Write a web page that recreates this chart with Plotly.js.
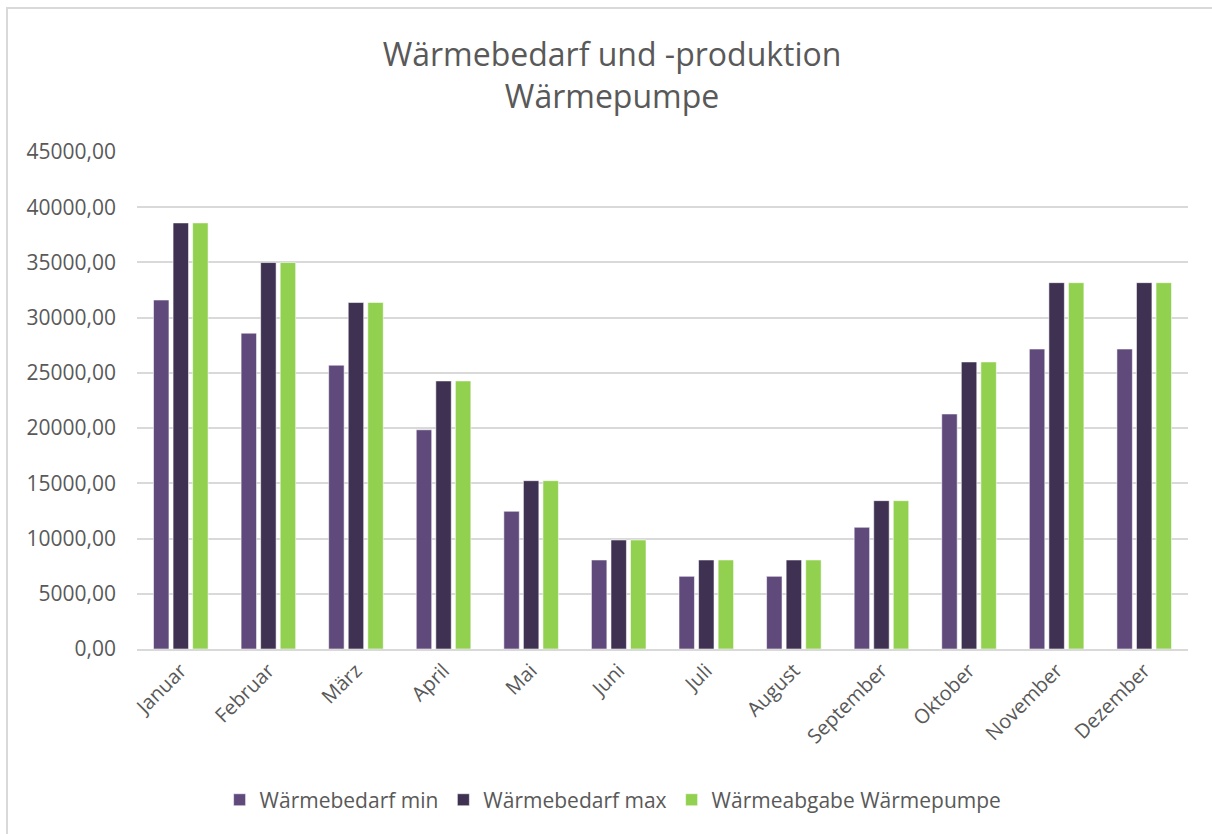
<!DOCTYPE html>
<html>
<head>
<meta charset="utf-8">
<script src="https://cdn.plot.ly/plotly-3.0.1.min.js"></script>
<style>
  html, body { margin: 0; padding: 0; background: #ffffff; overflow: hidden; }
  #frame { position: absolute; left: 6px; top: 7px; width: 1230px; height: 850px; border-left: 2px solid #d9d9d9; border-top: 2px solid #d9d9d9; }
  #chart { position: absolute; left: 0; top: 0; width: 1212px; height: 834px; }
</style>
</head>
<body>
<div id="frame"></div>
<div id="chart"></div>
<script>
const months = ["Januar", "Februar", "März", "April", "Mai", "Juni", "Juli", "August", "September", "Oktober", "November", "Dezember"];
const bedarfMin = [31600, 28600, 25700, 19850, 12470, 8060, 6580, 6580, 11020, 21280, 27160, 27160];
const bedarfMax = [38580, 34990, 31370, 24270, 15240, 9870, 8060, 8060, 13430, 25990, 33170, 33170];
const abgabeWP = [38580, 34990, 31370, 24270, 15240, 9870, 8060, 8060, 13430, 25990, 33170, 33170];
const seriesNames = ["Wärmebedarf min", "Wärmebedarf max", "Wärmeabgabe Wärmepumpe"];
const seriesColors = ["#604A7B", "#3F3151", "#92D050"];
const yTicks = [0, 5000, 10000, 15000, 20000, 25000, 30000, 35000, 40000, 45000];

const font = "'Open Sans', 'DejaVu Sans', sans-serif";
const textColor = "#595959";

const data = [bedarfMin, bedarfMax, abgabeWP].map((vals, i) => ({
  type: "bar",
  x: months,
  y: vals,
  name: seriesNames[i],
  marker: { color: seriesColors[i], line: { color: "rgba(255,255,255,0.55)", width: 1 } },
  hoverinfo: "x+y+name"
}));

const layout = {
  width: 1212,
  height: 834,
  paper_bgcolor: "rgba(0,0,0,0)",
  plot_bgcolor: "rgba(0,0,0,0)",
  margin: { l: 137, r: 24, t: 152, b: 185 },
  separators: ",.",
  font: { family: font, color: textColor, size: 20 },
  title: {
    text: "Wärmebedarf und -produktion<br>Wärmepumpe",
    font: { family: font, size: 32, color: textColor },
    xref: "container", x: 0.505, xanchor: "center",
    yref: "container", y: 1 - 66 / 834, yanchor: "middle"
  },
  bargap: 0.33,
  bargroupgap: 0.21,
  barmode: "group",
  xaxis: {
    type: "category",
    tickangle: -45,
    showgrid: false,
    showline: true,
    linecolor: "#d9d9d9",
    linewidth: 2,
    ticks: "",
    tickfont: { family: font, size: 20, color: textColor },
    fixedrange: true
  },
  yaxis: {
    range: [0, 45000],
    tickvals: yTicks,
    tickformat: ".2f",
    showgrid: true,
    gridcolor: "#d9d9d9",
    gridwidth: 2,
    zeroline: false,
    showline: false,
    ticks: "",
    ticklabelstandoff: 20,
    tickfont: { family: font, size: 21, color: textColor },
    fixedrange: true
  },
  legend: {
    orientation: "h",
    x: 0.453, xanchor: "center",
    y: -0.304, yanchor: "middle",
    font: { family: font, size: 21, color: textColor },
    traceorder: "normal"
  },
  showlegend: true
};

Plotly.newPlot("chart", data, layout, { displayModeBar: false, staticPlot: true });
</script>
</body>
</html>
